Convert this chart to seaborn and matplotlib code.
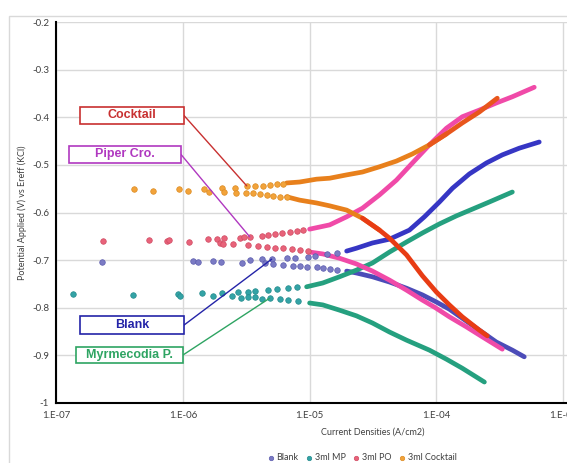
import numpy as np
import pandas as pd
import matplotlib
matplotlib.use('Agg')
import matplotlib.pyplot as plt
import seaborn as sns
from matplotlib.ticker import MultipleLocator, LogLocator, FuncFormatter, NullFormatter
from matplotlib.patches import Rectangle

# ---- data: current density (A/cm2) / potential (V) ----
# Blank
blank_dot_i = [2.30e-7, 1.20e-6, 1.31e-6, 1.72e-6, 1.99e-6, 2.92e-6,
               3.37e-6, 4.19e-6, 5.02e-6, 6.59e-6, 7.62e-6, 9.64e-6, 1.095e-5, 1.36e-5, 1.63e-5,
               4.42e-6, 5.11e-6, 6.13e-6, 7.35e-6, 8.34e-6, 9.47e-6, 1.135e-5, 1.27e-5, 1.44e-5, 1.63e-5]
blank_dot_e = [-0.704, -0.702, -0.704, -0.702, -0.704, -0.706,
               -0.700, -0.698, -0.698, -0.696, -0.696, -0.693, -0.691, -0.687, -0.685,
               -0.706, -0.708, -0.710, -0.712, -0.712, -0.714, -0.714, -0.717, -0.719, -0.721]
blank_anod_i = [1.96e-5, 2.34e-5, 3.13e-5, 4.27e-5, 6.12e-5, 8.05e-5, 1.056e-4, 1.34e-4, 1.82e-4, 2.48e-4, 3.31e-4, 4.50e-4, 6.47e-4]
blank_anod_e = [-0.681, -0.675, -0.664, -0.656, -0.637, -0.609, -0.578, -0.549, -0.519, -0.496, -0.479, -0.465, -0.452]
blank_cath_i = [1.96e-5, 2.34e-5, 3.13e-5, 4.27e-5, 5.81e-5, 7.76e-5, 1.00e-4, 1.265e-4, 1.60e-4, 2.18e-4, 2.97e-4, 3.97e-4, 4.93e-4]
blank_cath_e = [-0.723, -0.727, -0.735, -0.746, -0.759, -0.773, -0.788, -0.803, -0.822, -0.847, -0.872, -0.889, -0.903]

# 3ml MP (Myrmecodia P.)
mp_dot_i = [1.36e-7, 4.04e-7, 9.13e-7, 9.47e-7, 1.41e-6, 1.72e-6, 2.03e-6, 2.43e-6, 2.71e-6, 2.86e-6,
            3.25e-6, 3.69e-6, 4.67e-6, 5.50e-6, 6.71e-6, 7.90e-6,
            3.25e-6, 3.69e-6, 4.19e-6, 4.84e-6, 5.81e-6, 6.71e-6, 8.04e-6]
mp_dot_e = [-0.771, -0.773, -0.771, -0.775, -0.769, -0.775, -0.769, -0.775, -0.767, -0.780,
            -0.767, -0.765, -0.763, -0.761, -0.759, -0.756,
            -0.777, -0.777, -0.782, -0.780, -0.782, -0.784, -0.786]
mp_anod_i = [9.47e-6, 1.27e-5, 1.72e-5, 2.34e-5, 3.13e-5, 4.27e-5, 5.81e-5, 7.76e-5, 1.056e-4, 1.44e-4, 1.92e-4, 2.61e-4, 3.97e-4]
mp_anod_e = [-0.756, -0.748, -0.735, -0.721, -0.706, -0.683, -0.662, -0.643, -0.624, -0.607, -0.593, -0.578, -0.557]
mp_cath_i = [1.00e-5, 1.27e-5, 1.72e-5, 2.34e-5, 3.13e-5, 4.27e-5, 5.81e-5, 8.81e-5, 1.20e-4, 1.60e-4, 2.39e-4]
mp_cath_e = [-0.790, -0.794, -0.805, -0.817, -0.832, -0.851, -0.868, -0.889, -0.908, -0.927, -0.956]

# 3ml PO (Piper Cro.)
po_dot_i = [2.34e-7, 5.40e-7, 7.48e-7, 7.76e-7, 1.115e-6, 1.57e-6, 1.85e-6, 1.96e-6, 2.10e-6, 2.07e-6, 2.48e-6, 2.81e-6, 3.02e-6,
            3.37e-6, 4.19e-6, 4.67e-6, 5.30e-6, 6.02e-6, 6.96e-6, 7.90e-6, 8.81e-6,
            3.25e-6, 3.90e-6, 4.58e-6, 5.30e-6, 6.13e-6, 7.22e-6, 8.34e-6, 9.64e-6]
po_dot_e = [-0.660, -0.658, -0.660, -0.658, -0.662, -0.656, -0.656, -0.664, -0.654, -0.666, -0.666, -0.654, -0.651,
            -0.651, -0.649, -0.647, -0.645, -0.643, -0.641, -0.639, -0.637,
            -0.668, -0.670, -0.672, -0.675, -0.675, -0.677, -0.679, -0.681]
po_anod_i = [1.00e-5, 1.44e-5, 1.96e-5, 2.61e-5, 3.56e-5, 4.84e-5, 6.47e-5, 8.81e-5, 1.20e-4, 1.60e-4, 2.18e-4, 2.97e-4, 3.97e-4, 5.91e-4]
po_anod_e = [-0.635, -0.626, -0.609, -0.591, -0.563, -0.532, -0.496, -0.458, -0.423, -0.399, -0.385, -0.370, -0.357, -0.337]
po_cath_i = [1.00e-5, 1.27e-5, 1.72e-5, 2.34e-5, 3.13e-5, 4.27e-5, 5.81e-5, 7.76e-5, 9.83e-5, 1.265e-4, 1.72e-4, 2.30e-4, 3.31e-4]
po_cath_e = [-0.683, -0.687, -0.696, -0.708, -0.723, -0.742, -0.763, -0.784, -0.800, -0.819, -0.840, -0.861, -0.887]

# 3ml Cocktail
ck_dot_i = [4.11e-7, 5.81e-7, 9.30e-7, 1.095e-6, 1.46e-6, 1.60e-6, 2.03e-6, 2.10e-6, 2.57e-6, 2.61e-6,
            3.19e-6, 3.69e-6, 4.27e-6, 4.84e-6, 5.50e-6, 6.13e-6,
            3.13e-6, 3.56e-6, 4.04e-6, 4.58e-6, 5.11e-6, 5.81e-6, 6.59e-6]
ck_dot_e = [-0.551, -0.555, -0.551, -0.555, -0.551, -0.557, -0.549, -0.557, -0.549, -0.559,
            -0.544, -0.544, -0.544, -0.542, -0.540, -0.540,
            -0.559, -0.559, -0.561, -0.563, -0.565, -0.567, -0.567]
ck_anod_i = [6.59e-6, 8.34e-6, 1.135e-5, 1.44e-5, 1.96e-5, 2.61e-5, 3.56e-5, 4.84e-5, 6.47e-5, 8.81e-5, 1.20e-4, 1.60e-4, 2.18e-4, 3.02e-4]
ck_anod_e = [-0.538, -0.536, -0.530, -0.528, -0.521, -0.515, -0.504, -0.492, -0.477, -0.458, -0.435, -0.412, -0.389, -0.360]
ck_cath_i = [6.59e-6, 8.34e-6, 1.135e-5, 1.44e-5, 1.96e-5, 2.61e-5, 3.56e-5, 4.27e-5, 5.81e-5, 7.76e-5, 1.00e-4, 1.265e-4, 1.60e-4, 2.18e-4, 2.52e-4]
ck_cath_e = [-0.567, -0.574, -0.580, -0.586, -0.595, -0.612, -0.637, -0.654, -0.689, -0.733, -0.767, -0.794, -0.819, -0.847, -0.859]

series_names = ['Blank', '3ml MP', '3ml PO', '3ml Cocktail']
dot_colors = ['#7b7bc4', '#33a3a6', '#e8637a', '#f2a33a']
dot_edges = ['#5c5cae', '#248a8c', '#d04a62', '#dc8a22']

sns.set_style('white')
plt.rcParams['font.family'] = ['Lato', 'DejaVu Sans']

fig = plt.figure(figsize=(5.67, 4.63), dpi=100)
# plot area runs on past the right edge (the chart is cropped at 1E-03)
ax = fig.add_axes([56 / 567, 60 / 463, 634 / 567, 381 / 463])

# chart-area frame
fig.add_artist(Rectangle((9 / 567, -0.1), 2, 1.0654, transform=fig.transFigure,
                         fill=False, ec='#d9d9d9', lw=1))

def line(xs, ys, color, lw=3.4):
    sns.lineplot(x=xs, y=ys, color=color, lw=lw, sort=False, estimator=None,
                 ax=ax, zorder=3, solid_capstyle='round', solid_joinstyle='round')

# Blank
line(blank_anod_i, blank_anod_e, '#3636c4')
line(blank_cath_i, blank_cath_e, '#4c4cb8')
# MP
line(mp_anod_i, mp_anod_e, '#25a07f')
line(mp_cath_i, mp_cath_e, '#25a07f')
# PO
line(po_anod_i, po_anod_e, '#f04aa8')
line(po_cath_i, po_cath_e, '#f04aa8')
# Cocktail (turns red where the markers pile up)
line(ck_anod_i[:11], ck_anod_e[:11], '#e8801c')
line(ck_anod_i[9:], ck_anod_e[9:], '#e8561c')
line(ck_cath_i[:7], ck_cath_e[:7], '#e8801c')
line(ck_cath_i[5:], ck_cath_e[5:], '#e83c14')

dot_sets = [(blank_dot_i, blank_dot_e), (mp_dot_i, mp_dot_e), (po_dot_i, po_dot_e), (ck_dot_i, ck_dot_e)]
for (xi, ye), name, c, ec in zip(dot_sets, series_names, dot_colors, dot_edges):
    sns.scatterplot(x=xi, y=ye, color=c, edgecolor=ec, linewidth=0.5, s=16,
                    label=name, ax=ax, zorder=4)

ax.set_xscale('log')
ax.set_xlim(1e-7, 1e-2)
ax.set_ylim(-1, -0.2)

ax.xaxis.set_major_locator(LogLocator(base=10))
ax.xaxis.set_minor_locator(LogLocator(base=10, subs=np.arange(2, 10)))
ax.xaxis.set_minor_formatter(NullFormatter())
ax.xaxis.set_major_formatter(FuncFormatter(lambda v, _: '1.E-%02d' % round(-np.log10(v))))
ax.yaxis.set_major_locator(MultipleLocator(0.1))
ax.yaxis.set_minor_locator(MultipleLocator(0.005))
ax.yaxis.set_major_formatter(FuncFormatter(lambda v, _: f'{v:g}'))

ax.tick_params(which='major', direction='inout', length=6, width=1.2, color='black',
               labelsize=7, labelcolor='#404040', pad=2)
ax.tick_params(which='minor', direction='inout', length=3, width=0.8, color='black')
ax.tick_params(axis='x', which='major', pad=3)

ax.grid(True, which='major', color='#d9d9d9', lw=1)
ax.set_axisbelow(True)
for s in ['top', 'right']:
    ax.spines[s].set_visible(False)
for s in ['left', 'bottom']:
    ax.spines[s].set_color('black')
    ax.spines[s].set_linewidth(1.5)

ax.set_xlabel('Current Densities (A/cm2)', fontsize=6.5, color='#404040', labelpad=5)
ax.set_ylabel('Potential Applied (V) vs Ereff (KCl)', fontsize=6.5, color='#404040')
ax.yaxis.set_label_coords(-0.045, 0.5)

# legend under the axis
leg = ax.legend(loc='center', bbox_to_anchor=(0.481, -0.144), ncol=4, frameon=False,
                fontsize=6.5, handletextpad=0.0, columnspacing=0.6, markerscale=0.8,
                handlelength=1.2)
for t in leg.get_texts():
    t.set_color('#404040')

# labelled call-out boxes
def label_box(text, x0, x1, y0, y1, color, target):
    ax.add_patch(Rectangle((x0, y0), x1 - x0, y1 - y0, transform=ax.transAxes,
                           fc='white', ec=color, lw=1.2, zorder=6, clip_on=False))
    ax.text((x0 + x1) / 2, (y0 + y1) / 2, text, transform=ax.transAxes, ha='center',
            va='center', color=color, fontsize=9, fontweight='bold',
            family='Liberation Sans', zorder=7)
    ax.annotate('', xy=target, xycoords='data', xytext=(x1, (y0 + y1) / 2),
                textcoords='axes fraction',
                arrowprops=dict(arrowstyle='-', color=color, lw=1, shrinkA=0, shrinkB=0),
                zorder=5)

label_box('Cocktail', 0.0379, 0.2019, 0.7323, 0.7769, '#c83030', (ck_dot_i[10], ck_dot_e[10]))
label_box('Piper Cro.', 0.0205, 0.1972, 0.630, 0.6745, '#b038c0', (po_dot_i[13], po_dot_e[13]))
label_box('Blank', 0.0379, 0.2019, 0.181, 0.228, '#2424a8', (blank_dot_i[8], blank_dot_e[8]))
label_box('Myrmecodia P.', 0.0315, 0.2003, 0.105, 0.147, '#2ea462', (mp_dot_i[19], mp_dot_e[19]))

fig.savefig('out.png', dpi=100)
